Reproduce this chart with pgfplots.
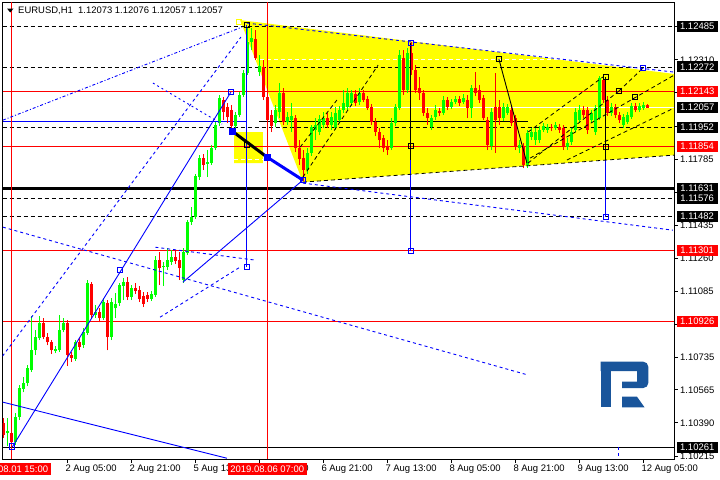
\documentclass[border=0pt]{standalone}
\usepackage{pgfplots}
\pgfplotsset{compat=1.18}
\usepackage{pgfplotstable}
\usepackage{fontspec}
\setmainfont{Liberation Sans}
\definecolor{mtgreen}{RGB}{0,255,0}
\definecolor{mtred}{RGB}{255,0,0}
\definecolor{mtblue}{RGB}{0,0,255}
\definecolor{mtyellow}{RGB}{255,255,0}
\definecolor{logoblue}{RGB}{25,85,155}

\pgfplotstableread{
i o h l c
-1 1.10335 1.10415 1.10266 1.10346
1 1.10287 1.10441 1.10272 1.10420
2 1.10420 1.10590 1.10404 1.10574
3 1.10568 1.10632 1.10552 1.10600
4 1.10600 1.10696 1.10584 1.10680
5 1.10669 1.10954 1.10658 1.10774
6 1.10774 1.10880 1.10748 1.10843
7 1.10838 1.10954 1.10827 1.10917
11 1.10769 1.10795 1.10758 1.10779
12 1.10774 1.10960 1.10764 1.10880
13 1.10880 1.10944 1.10869 1.10917
16 1.10727 1.10827 1.10717 1.10816
18 1.10800 1.10891 1.10785 1.10869
19 1.10864 1.11145 1.10854 1.11129
21 1.10960 1.11012 1.10944 1.10975
23 1.10944 1.11049 1.10933 1.11028
25 1.10843 1.11049 1.10827 1.11028
26 1.10996 1.11076 1.10944 1.11018
27 1.11023 1.11129 1.11007 1.11119
28 1.11113 1.11155 1.11039 1.11134
30 1.11055 1.11119 1.11039 1.11103
35 1.11044 1.11087 1.11034 1.11071
36 1.11065 1.11272 1.11055 1.11251
38 1.11214 1.11240 1.11113 1.11219
39 1.11214 1.11314 1.11198 1.11251
40 1.11240 1.11304 1.11224 1.11267
43 1.11145 1.11314 1.11129 1.11293
44 1.11288 1.11462 1.11277 1.11452
45 1.11452 1.11531 1.11436 1.11478
46 1.11478 1.11706 1.11467 1.11695
47 1.11690 1.11806 1.11674 1.11790
49 1.11759 1.11832 1.11690 1.11769
50 1.11764 1.11859 1.11753 1.11843
51 1.11843 1.11980 1.11832 1.11965
52 1.11975 1.12124 1.11959 1.12108
56 1.11959 1.12033 1.11949 1.12018
57 1.12018 1.12139 1.12007 1.12124
58 1.12124 1.12256 1.12113 1.12240
59 1.12240 1.12485 1.12229 1.12403
60 1.12403 1.12480 1.12361 1.12425
62 1.12245 1.12335 1.12224 1.12277
66 1.11975 1.12071 1.11954 1.12044
67 1.12033 1.12187 1.12002 1.12134
69 1.11980 1.12033 1.11965 1.12007
70 1.11991 1.12081 1.11928 1.12012
74 1.11727 1.11843 1.11706 1.11816
75 1.11816 1.11965 1.11801 1.11954
76 1.11938 1.12002 1.11885 1.11965
77 1.11928 1.12018 1.11912 1.11996
78 1.11965 1.12033 1.11949 1.12002
80 1.11965 1.12033 1.11938 1.12007
81 1.11949 1.12060 1.11938 1.12028
82 1.11991 1.12065 1.11975 1.12044
83 1.12044 1.12150 1.12028 1.12081
84 1.12060 1.12161 1.12044 1.12134
85 1.12081 1.12150 1.12065 1.12134
87 1.12086 1.12161 1.12071 1.12134
95 1.11843 1.12002 1.11832 1.11975
96 1.11975 1.12076 1.11959 1.12060
97 1.12055 1.12361 1.12044 1.12335
99 1.12150 1.12372 1.12134 1.12346
105 1.11954 1.12018 1.11938 1.12002
106 1.12007 1.12071 1.11991 1.12044
108 1.12028 1.12118 1.12018 1.12097
110 1.12060 1.12102 1.12049 1.12086
111 1.12086 1.12118 1.12076 1.12102
113 1.12086 1.12129 1.12076 1.12108
115 1.12055 1.12176 1.12002 1.12161
120 1.11854 1.12055 1.11832 1.12033
123 1.12002 1.12081 1.11986 1.12060
124 1.12028 1.12076 1.12018 1.12060
127 1.11843 1.11885 1.11816 1.11859
129 1.11753 1.11938 1.11737 1.11922
130 1.11901 1.11949 1.11885 1.11928
131 1.11885 1.11949 1.11859 1.11928
132 1.11885 1.11959 1.11869 1.11938
133 1.11938 1.11975 1.11928 1.11959
134 1.11938 1.11970 1.11922 1.11954
136 1.11949 1.11980 1.11938 1.11965
139 1.11848 1.11896 1.11832 1.11869
140 1.11875 1.11949 1.11859 1.11928
141 1.11938 1.12055 1.11928 1.12033
142 1.11991 1.12071 1.11975 1.12044
145 1.11991 1.12044 1.11975 1.12028
146 1.11928 1.12071 1.11912 1.12055
147 1.12002 1.12224 1.11991 1.12213
150 1.12028 1.12081 1.12012 1.12060
153 1.11965 1.12023 1.11949 1.12007
154 1.11980 1.12033 1.11970 1.12018
155 1.12007 1.12081 1.11996 1.12065
157 1.12044 1.12081 1.12033 1.12065
158 1.12055 1.12086 1.12044 1.12071
}\greentab

\pgfplotstableread{
i o h l c
-2 1.10388 1.10415 1.10309 1.10325
0 1.10335 1.10351 1.10261 1.10287
8 1.10917 1.10944 1.10832 1.10843
9 1.10843 1.10864 1.10800 1.10816
10 1.10816 1.10827 1.10753 1.10774
14 1.10917 1.10933 1.10690 1.10748
15 1.10748 1.10764 1.10711 1.10732
17 1.10816 1.10838 1.10774 1.10790
20 1.11124 1.11134 1.10944 1.10960
22 1.10975 1.10996 1.10922 1.10944
24 1.11023 1.11039 1.10774 1.10843
29 1.11134 1.11161 1.11039 1.11055
31 1.11103 1.11129 1.11071 1.11087
32 1.11092 1.11113 1.11028 1.11044
33 1.11060 1.11081 1.11002 1.11018
34 1.11065 1.11081 1.11028 1.11044
37 1.11251 1.11293 1.11119 1.11209
41 1.11267 1.11304 1.11230 1.11245
42 1.11251 1.11293 1.11145 1.11209
48 1.11790 1.11811 1.11727 1.11753
53 1.12097 1.12113 1.11991 1.12033
54 1.12060 1.12081 1.11975 1.12007
55 1.12044 1.12071 1.11938 1.11959
61 1.12420 1.12467 1.12309 1.12319
63 1.12272 1.12309 1.12097 1.12113
64 1.12113 1.12134 1.11965 1.11991
65 1.12018 1.12044 1.11928 1.11959
68 1.12134 1.12161 1.11965 1.11980
71 1.12002 1.12018 1.11822 1.11843
72 1.11843 1.11885 1.11753 1.11785
73 1.11790 1.11832 1.11669 1.11727
79 1.12002 1.12028 1.11949 1.11965
86 1.12129 1.12150 1.12065 1.12081
88 1.12134 1.12150 1.12086 1.12097
89 1.12102 1.12118 1.12044 1.12055
90 1.12060 1.12076 1.11965 1.11980
91 1.11980 1.12002 1.11906 1.11928
92 1.11928 1.11949 1.11843 1.11885
93 1.11896 1.11912 1.11822 1.11843
94 1.11848 1.11885 1.11806 1.11832
98 1.12319 1.12361 1.12124 1.12150
100 1.12346 1.12403 1.12229 1.12256
101 1.12256 1.12282 1.12134 1.12150
102 1.12161 1.12219 1.12097 1.12134
103 1.12134 1.12150 1.12012 1.12028
104 1.12028 1.12055 1.11965 1.12002
107 1.12039 1.12055 1.12012 1.12028
109 1.12097 1.12113 1.12044 1.12060
112 1.12102 1.12118 1.12065 1.12081
114 1.12097 1.12124 1.12002 1.12055
116 1.12161 1.12245 1.12118 1.12134
117 1.12150 1.12176 1.12081 1.12097
118 1.12108 1.12124 1.11991 1.12002
119 1.11991 1.12007 1.11832 1.11859
121 1.12060 1.12240 1.11816 1.11991
122 1.12060 1.12097 1.11965 1.12002
125 1.12044 1.12065 1.11959 1.11975
126 1.12002 1.12018 1.11832 1.11848
128 1.11848 1.11869 1.11737 1.11753
135 1.11954 1.11970 1.11933 1.11949
137 1.11954 1.11970 1.11922 1.11938
138 1.11949 1.11965 1.11832 1.11848
143 1.12044 1.12065 1.12002 1.12018
144 1.12044 1.12060 1.11917 1.11938
148 1.12203 1.12219 1.12081 1.12097
149 1.12097 1.12118 1.12012 1.12028
151 1.12060 1.12076 1.12002 1.12018
152 1.12018 1.12033 1.11975 1.11991
156 1.12065 1.12081 1.12033 1.12044
159 1.12073 1.12076 1.12057 1.12057
}\redtab

\begin{document}
\begin{tikzpicture}[font=\fontsize{9.5}{11}\selectfont,
  mtdash/.style={dash pattern=on 4bp off 3bp},
  bdash/.style={dash pattern=on 3bp off 3bp},
  bdot/.style={dash pattern=on 2bp off 3bp},
  bdashdot/.style={dash pattern=on 3bp off 2bp on 1bp off 2bp},
  lab/.style={anchor=west, inner sep=0pt, xshift=6bp, text=black},
  bbox/.style={anchor=west, inner sep=0pt, xshift=2.5bp, minimum width=41bp, minimum height=11bp, fill=black, text=white},
  rbox/.style={bbox, fill=mtred},
  xlab/.style={anchor=base west, inner sep=0pt, xshift=-2bp, yshift=-12.9bp},
  cbox/.style={anchor=north, inner sep=0pt, yshift=-3.8bp, minimum width=79bp, minimum height=11.5bp, fill=mtred, text=white}]
\path[use as bounding box] (0,0) rectangle (720bp,-480bp);
\begin{axis}[
  at={(2.5bp,-459bp)}, anchor=south west,
  scale only axis, width=671.5bp, height=456.5bp,
  xmin=-2.2, xmax=165.675, ymin=1.10199, ymax=1.12613,
  clip mode=individual,
  axis line style={black, line width=0.8bp},
  xtick=\empty, ytick=\empty,
]
% yellow areas
\addplot[fill=mtyellow, draw=none] coordinates {(57.2,1.12520) (165.8,1.12235) (165.8,1.11806) (72.9,1.11663) (57.2,1.12520)};
\addplot[fill=mtyellow, draw=none] coordinates {(55.7,1.11928) (62.9,1.11928) (62.9,1.11764) (55.7,1.11764) (55.7,1.11928)};
% horizontal levels
\addplot[black, mtdash, line width=0.8bp] coordinates {(-2.2,1.12485) (165.7,1.12485)};
\addplot[white, mtdash, line width=0.8bp] coordinates {(57,1.12310) (165.7,1.12310)};
\addplot[black, mtdash, line width=0.8bp] coordinates {(-2.2,1.12272) (165.7,1.12272)};
\addplot[mtred, line width=0.9bp] coordinates {(-2.2,1.12143) (165.7,1.12143)};
\addplot[white, line width=0.9bp] coordinates {(-2.2,1.12057) (165.7,1.12057)};
\addplot[mtblue, line width=0.9bp] coordinates {(-2.2,1.11983) (58.9,1.11983)};
\addplot[black, line width=0.9bp] coordinates {(62,1.11983) (129.2,1.11983)};
\addplot[black, mtdash, line width=0.8bp] coordinates {(-2.2,1.11952) (165.7,1.11952)};
\addplot[mtred, line width=0.9bp] coordinates {(-2.2,1.11854) (165.7,1.11854)};
\addplot[white, mtdash, line width=0.8bp] coordinates {(55.7,1.11785) (62.9,1.11785)};
\addplot[black, line width=3bp] coordinates {(-2.2,1.11631) (165.7,1.11631)};
\addplot[black, mtdash, line width=0.8bp] coordinates {(-2.2,1.11576) (165.7,1.11576)};
\addplot[black, mtdash, line width=0.8bp] coordinates {(-2.2,1.11482) (165.7,1.11482)};
\addplot[mtred, line width=0.9bp] coordinates {(-2.2,1.11301) (165.7,1.11301)};
\addplot[mtred, line width=0.9bp] coordinates {(-2.2,1.10926) (165.7,1.10926)};
\addplot[black, line width=0.9bp] coordinates {(-2.2,1.10261) (165.7,1.10261)};
% vertical cursors
\addplot[mtred, line width=0.9bp] coordinates {(0,1.10199) (0,1.12613)};
\addplot[mtred, line width=0.9bp] coordinates {(64,1.10199) (64,1.12613)};
% candles: wicks and bodies
\addplot[draw=none, error bars/.cd, y dir=plus, y explicit, error mark=none,
  error bar style={draw=mtgreen, line width=1bp, line cap=butt}]
  table[x=i, y=l, y error plus expr=\thisrow{h}-\thisrow{l}] {\greentab};
\addplot[draw=none, error bars/.cd, y dir=plus, y explicit, error mark=none,
  error bar style={draw=mtgreen, line width=3bp, line cap=butt}]
  table[x=i, y=o, y error plus expr=\thisrow{c}-\thisrow{o}] {\greentab};
\addplot[draw=none, error bars/.cd, y dir=plus, y explicit, error mark=none,
  error bar style={draw=mtred, line width=1bp, line cap=butt}]
  table[x=i, y=l, y error plus expr=\thisrow{h}-\thisrow{l}] {\redtab};
\addplot[draw=none, error bars/.cd, y dir=plus, y explicit, error mark=none,
  error bar style={draw=mtred, line width=3bp, line cap=butt}]
  table[x=i, y=c, y error plus expr=\thisrow{o}-\thisrow{c}] {\redtab};
% vertical markers
\addplot[mtblue, line width=0.9bp] coordinates {(58.9,1.12494) (58.9,1.11214)};
\addplot[black, line width=0.9bp] coordinates {(99.9,1.12398) (99.9,1.11780)};
\addplot[mtblue, line width=0.9bp] coordinates {(99.9,1.11780) (99.9,1.11299)};
\addplot[black, line width=0.9bp] coordinates {(148.6,1.12219) (148.6,1.11780)};
\addplot[mtblue, line width=0.9bp] coordinates {(148.6,1.11780) (148.6,1.11478)};
\addplot[mtblue, bdash, line width=0.9bp] coordinates {(151.9,1.10261) (151.9,1.10199)};
% blue trend lines
\addplot[mtblue, bdashdot, line width=0.9bp] coordinates {(-2.1,1.11991) (57.7,1.12483)};
\addplot[mtblue, bdash, line width=0.9bp] coordinates {(-2.2,1.10743) (57.4,1.12430)};
\addplot[mtblue, bdot, line width=0.9bp] coordinates {(35.4,1.12187) (52.7,1.11970)};
\addplot[mtblue, line width=0.9bp] coordinates {(0.2,1.10261) (54.9,1.12139)};
\addplot[mtblue, line width=0.9bp] coordinates {(-2.2,1.10500) (53.9,1.10203)};
\addplot[mtblue, bdash, line width=0.9bp] coordinates {(-2.1,1.11425) (129.2,1.10643)};
\addplot[mtblue, bdash, line width=0.9bp] coordinates {(36,1.11319) (60.9,1.11251)};
\addplot[mtblue, line width=0.9bp] coordinates {(42.9,1.11134) (72.9,1.11674)};
\addplot[mtblue, bdash, line width=0.9bp] coordinates {(37.2,1.10949) (57.2,1.11214)};
\addplot[mtblue, bdash, line width=0.9bp] coordinates {(72.9,1.11658) (165.4,1.11409)};
\addplot[mtblue, bdash, line width=0.9bp] coordinates {(58.9,1.12504) (165.7,1.12245)};
% black trend lines
\addplot[black, mtdash, line width=0.8bp] coordinates {(72.9,1.11690) (91.7,1.12282)};
\addplot[black, mtdash, line width=0.8bp] coordinates {(72.2,1.11848) (81.4,1.12097)};
\addplot[black, mtdash, line width=0.8bp] coordinates {(72.9,1.11663) (165.7,1.11806)};
\addplot[black, line width=0.9bp] coordinates {(121.9,1.12314) (128.9,1.11764)};
\addplot[black, mtdash, line width=0.8bp] coordinates {(129.2,1.11764) (151.9,1.12145)};
\addplot[black, mtdash, line width=0.8bp] coordinates {(151.9,1.12145) (157.9,1.12266)};
\addplot[black, mtdash, line width=0.8bp] coordinates {(129.7,1.11790) (165.7,1.12229)};
\addplot[black, mtdash, line width=0.8bp] coordinates {(138.9,1.11780) (165.7,1.12055)};
\addplot[black, mtdash, line width=0.8bp] coordinates {(129.2,1.11928) (147.9,1.12219)};
% thick segments
\addplot[black, line width=3bp] coordinates {(55.2,1.11933) (63.9,1.11796)};
\addplot[mtblue, line width=3bp] coordinates {(63.9,1.11796) (72.9,1.11674)};
% anchor squares
\addplot[only marks, mark=square, mark size=2.7bp, mtblue, mark options={line width=0.9bp}] coordinates {(58.9,1.11214) (54.9,1.12139) (72.9,1.11674) (99.9,1.12398) (99.9,1.11299) (148.6,1.11478) (27.2,1.11198) (0.2,1.10266) (157.9,1.12266)};
\addplot[only marks, mark=square, mark size=2.5bp, black, mark options={line width=0.9bp}] coordinates {(58.9,1.12494) (58.9,1.11859) (99.9,1.11854) (121.9,1.12314) (148.6,1.12219) (148.6,1.11848) (151.9,1.12145) (155.9,1.12113)};
\addplot[only marks, mark=square*, mark size=3bp, mtblue] coordinates {(55.2,1.11933) (63.9,1.11796)};
\addplot[only marks, mark=square, mark size=2.5bp, mtyellow, mark options={line width=0.9bp}] coordinates {(56.9,1.12510)};
% tick marks
\pgfplotsinvokeforeach{14,30,46,62,78,94,110,126,142,158}{
  \draw[black, line width=0.8bp] (axis cs:#1,1.10199) -- ++(0bp,-4bp);
}
\pgfplotsinvokeforeach{1.10215,1.10390,1.10565,1.10735,1.10910,1.11085,1.11260,1.11435,1.11610,1.11785,1.11960,1.12135,1.12310,1.12485}{
  \draw[black, line width=0.8bp] (axis cs:165.675,#1) -- ++(4bp,0bp);
}
% right axis labels
\pgfplotsinvokeforeach{1.10215,1.10390,1.10565,1.10735,1.10910,1.11085,1.11260,1.11435,1.11610,1.11785,1.11960,1.12135,1.12310}{
  \node[lab] at (axis cs:165.675,#1) {#1};
}
\node[bbox] at (axis cs:165.675,1.12485) {1.12485};
\node[bbox] at (axis cs:165.675,1.12272) {1.12272};
\node[rbox] at (axis cs:165.675,1.12143) {1.12143};
\node[bbox] at (axis cs:165.675,1.12057) {1.12057};
\node[bbox] at (axis cs:165.675,1.11952) {1.11952};
\node[rbox] at (axis cs:165.675,1.11854) {1.11854};
\node[bbox] at (axis cs:165.675,1.11631) {1.11631};
\node[bbox] at (axis cs:165.675,1.11576) {1.11576};
\node[bbox] at (axis cs:165.675,1.11482) {1.11482};
\node[rbox] at (axis cs:165.675,1.11301) {1.11301};
\node[rbox] at (axis cs:165.675,1.10926) {1.10926};
\node[bbox] at (axis cs:165.675,1.10261) {1.10261};
% bottom labels
\node[xlab] at (axis cs:14,1.10199) {2 Aug 05:00};
\node[xlab] at (axis cs:30,1.10199) {2 Aug 21:00};
\node[xlab] at (axis cs:46,1.10199) {5 Aug 13:00};
\node[xlab] at (axis cs:62,1.10199) {6 Aug 05:00};
\node[xlab] at (axis cs:78,1.10199) {6 Aug 21:00};
\node[xlab] at (axis cs:94,1.10199) {7 Aug 13:00};
\node[xlab] at (axis cs:110,1.10199) {8 Aug 05:00};
\node[xlab] at (axis cs:126,1.10199) {8 Aug 21:00};
\node[xlab] at (axis cs:142,1.10199) {9 Aug 13:00};
\node[xlab] at (axis cs:158,1.10199) {12 Aug 05:00};
\node[cbox] at (axis cs:0,1.10199) {2019.08.01 15:00};
\node[cbox] at (axis cs:64,1.10199) {2019.08.06 07:00};
\end{axis}
\begin{scope}[x=1bp, y=-1bp]
  \fill[black] (7,8.5) -- (13.5,8.5) -- (10.25,12.5) -- cycle;
  \node[anchor=west, inner sep=0pt] at (18,10.5) {EURUSD,H1\ \ 1.12073 1.12076 1.12057 1.12057};
  % logo
  \fill[logoblue] (600.7,361.7) rectangle (611,407.3);
  \fill[logoblue] (600.7,361.7) [rounded corners=5bp] -- (648.3,361.7) -- (648.3,388) [sharp corners] -- (622,388) -- (622,381.7) -- (637,381.7) -- (637,371) -- (600.7,371) -- cycle;
  \fill[logoblue] (622,396.7) -- (637,396.7) -- (644.5,407.3) -- (622,407.3) -- cycle;
\end{scope}
\end{tikzpicture}
\end{document}
